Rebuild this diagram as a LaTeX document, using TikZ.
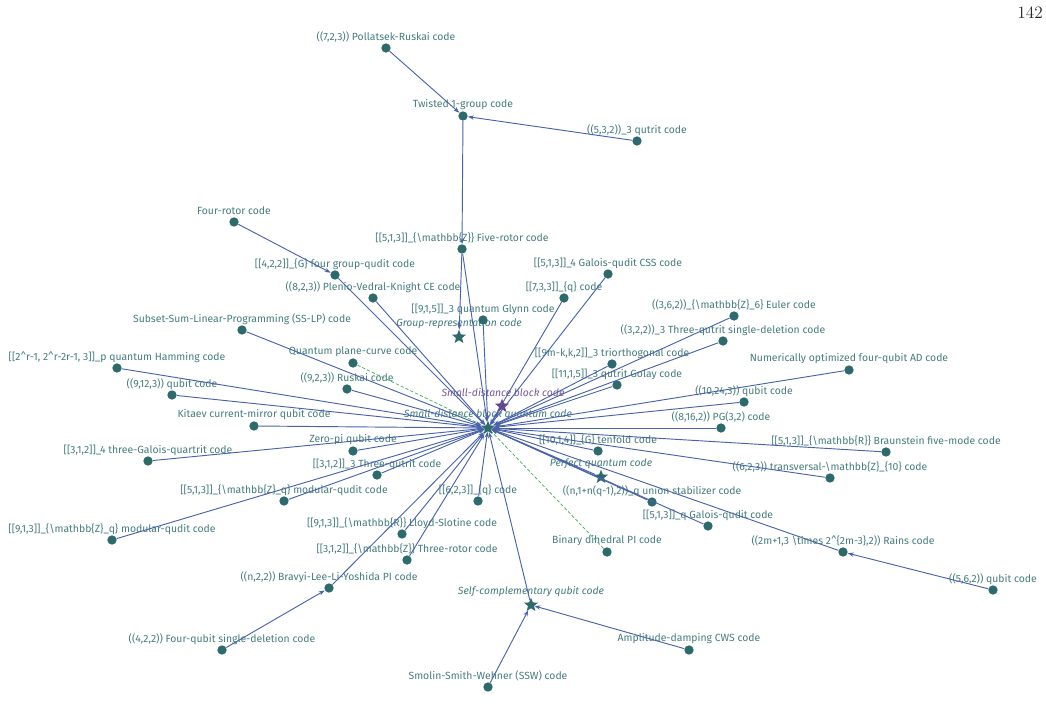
\documentclass[tikz,border=0pt]{standalone}
\usepackage{fontspec}
\newfontfamily\lblfont{Fira Sans}
\usetikzlibrary{shapes.geometric,arrows.meta}
\definecolor{dotc}{RGB}{45,106,108}
\definecolor{txtc}{RGB}{70,124,126}
\definecolor{edgec}{RGB}{72,99,170}
\definecolor{purc}{RGB}{108,62,132}
\definecolor{purtxt}{RGB}{122,88,152}
\definecolor{dashc}{RGB}{70,175,95}
\tikzset{
 dotn/.style={circle,fill=dotc,inner sep=0pt,minimum size=7pt},
 starn/.style={star,star points=5,star point ratio=2.3,fill=dotc,inner sep=0pt,minimum size=11pt},
 lbl/.style={text=txtc,font=\lblfont\fontsize{7.8}{9}\selectfont,inner sep=0pt},
 ilbl/.style={text=txtc,font=\lblfont\itshape\fontsize{7.8}{9}\selectfont,inner sep=0pt},
 edge/.style={draw=edgec,line width=0.7pt,-{Stealth[length=4.5pt,width=3.2pt]}},
 dedge/.style={draw=dashc,line width=0.55pt,dash pattern=on 2.5pt off 1.5pt},
}
\newcommand{\cnode}[4]{\node[dotn] (#1) at (#2,#3) {}; \node[lbl] (#1l) at (#2,#3-11) {#4};}
\newcommand{\snode}[4]{\node[starn] (#1) at (#2,#3) {}; \node[ilbl] (#1l) at (#2,#3-13) {#4};}
\begin{document}
\begin{tikzpicture}[x=0.75pt,y=-0.75pt]
\useasboundingbox (0,0) rectangle (1046,705);
\node[font=\fontsize{13}{15}\selectfont,text=black!85] (pagenum) at (1030,13) {142};
% hub and intermediate
\snode{hub}{488}{428}{Small-distance block quantum code}
\node[starn,fill=purc] (pur) at (502,406) {};
\node[ilbl,text=purtxt] (purl) at (503,393) {Small-distance block code};
\snode{grouprep}{459}{337}{Group-representation code}
\snode{perfect}{601}{477}{Perfect quantum code}
\snode{selfcomp}{531}{605}{Self-complementary qubit code}
% leaves
\cnode{pollatsek}{386}{48}{((7,2,3)) Pollatsek-Ruskai code}
\cnode{twisted}{463}{116}{Twisted 1-group code}
\cnode{qut532}{637}{141}{((5,3,2))\_3 qutrit code}
\cnode{fiverotor}{462}{249}{[[5,1,3]]\_\{\textbackslash mathbb\{Z\}\} Five-rotor code}
\cnode{fourrotor}{234}{222}{Four-rotor code}
\cnode{g422}{335}{275}{[[4,2,2]]\_\{G\} four group-qudit code}
\cnode{plenio}{373}{298}{((8,2,3)) Plenio-Vedral-Knight CE code}
\cnode{css4}{608}{274}{[[5,1,3]]\_4 Galois-qudit CSS code}
\cnode{q733}{564}{298}{[[7,3,3]]\_\{q\} code}
\cnode{glynn}{483}{320}{[[9,1,5]]\_3 quantum Glynn code}
\cnode{euler}{734}{316}{((3,6,2))\_\{\textbackslash mathbb\{Z\}\_6\} Euler code}
\cnode{qutdel}{723}{341}{((3,2,2))\_3 Three-qutrit single-deletion code}
\cnode{sslp}{242}{330}{Subset-Sum-Linear-Programming (SS-LP) code}
\cnode{plane}{353}{363}{Quantum plane-curve code}
\cnode{hamming}{117}{368}{[[2\textasciicircum r-1, 2\textasciicircum r-2r-1, 3]]\_p quantum Hamming code}
\cnode{trio}{612}{364}{[[9m-k,k,2]]\_3 triorthogonal code}
\cnode{numad}{849}{370}{Numerically optimized four-qubit AD code}
\cnode{q9123}{172}{395}{((9,12,3)) qubit code}
\cnode{ruskai}{347}{389}{((9,2,3)) Ruskai code}
\cnode{golay}{617}{385}{[[11,1,5]]\_3 qutrit Golay code}
\cnode{q10243}{744}{402}{((10,24,3)) qubit code}
\cnode{kitaev}{254}{426}{Kitaev current-mirror qubit code}
\cnode{pg32}{721}{428}{((8,16,2)) PG(3,2) code}
\cnode{braun}{886}{452}{[[5,1,3]]\_\{\textbackslash mathbb\{R\}\} Braunstein five-mode code}
\cnode{zeropi}{353}{451}{Zero-pi qubit code}
\cnode{tenfold}{598}{451}{[[10,1,4]]\_\{G\} tenfold code}
\cnode{quartrit}{148}{461}{[[3,1,2]]\_4 three-Galois-quartrit code}
\cnode{threequt}{377}{475}{[[3,1,2]]\_3 Three-qutrit code}
\cnode{transv}{830}{478}{((6,2,3)) transversal-\textbackslash mathbb\{Z\}\_\{10\} code}
\cnode{mod5}{284}{501}{[[5,1,3]]\_\{\textbackslash mathbb\{Z\}\_q\} modular-qudit code}
\cnode{q623}{478}{501}{[[6,2,3]]\_\{q\} code}
\cnode{union}{652}{502}{((n,1+n(q-1),2))\_q union stabilizer code}
\cnode{mod9}{112}{540}{[[9,1,3]]\_\{\textbackslash mathbb\{Z\}\_q\} modular-qudit code}
\cnode{lloyd}{402}{534}{[[9,1,3]]\_\{\textbackslash mathbb\{R\}\} Lloyd-Slotine code}
\cnode{galois5}{708}{526}{[[5,1,3]]\_q Galois-qudit code}
\cnode{binary}{607}{552}{Binary dihedral PI code}
\cnode{rains}{843}{552}{((2m+1,3 \textbackslash times 2\textasciicircum\{2m-3\},2)) Rains code}
\cnode{threerotor}{407}{560}{[[3,1,2]]\_\{\textbackslash mathbb\{Z\}\} Three-rotor code}
\cnode{q562}{993}{590}{((5,6,2)) qubit code}
\cnode{bravyi}{329}{588}{((n,2,2)) Bravyi-Lee-Li-Yoshida PI code}
\cnode{fourqubit}{222}{650}{((4,2,2)) Four-qubit single-deletion code}
\cnode{ampdamp}{689}{650}{Amplitude-damping CWS code}
\cnode{ssw}{488}{687}{Smolin-Smith-Wehner (SSW) code}
% edges
\draw[edge] (pollatsek) -- (twisted);
\draw[edge] (qut532) -- (twisted);
\draw[edge] (twisted) -- (fiverotor);
\draw[edge] (fiverotor) -- (grouprep);
\draw[edge] (fourrotor) -- (g422);
\draw[edge] (q562) -- (rains);
\draw[edge] (fourqubit) -- (bravyi);
\draw[edge] (ampdamp) -- (selfcomp);
\draw[edge] (ssw) -- (selfcomp);
\draw[edge] (hub) -- (pur);
\draw[dedge] (plane) -- (hub);
\draw[dedge] (binary) -- (hub);
\foreach \n in {fiverotor,g422,plenio,css4,q733,glynn,euler,qutdel,sslp,hamming,trio,numad,q9123,ruskai,golay,q10243,kitaev,pg32,braun,zeropi,tenfold,quartrit,threequt,perfect,transv,mod5,q623,union,mod9,lloyd,galois5,rains,threerotor,bravyi,selfcomp}
  \draw[edge] (\n) -- (hub);
\end{tikzpicture}
\end{document}
